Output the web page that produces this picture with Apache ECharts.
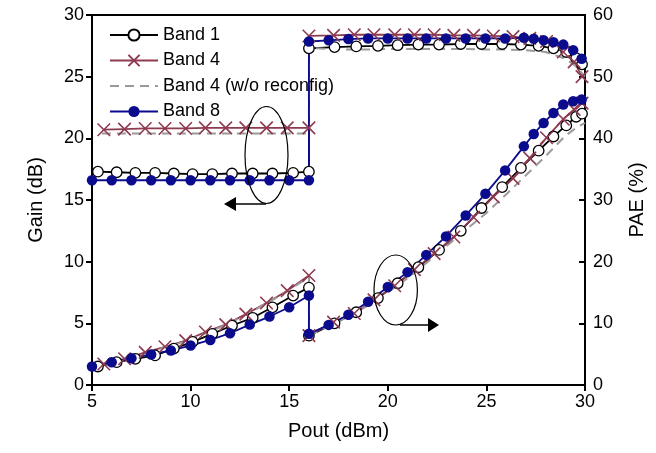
<!DOCTYPE html>
<html>
<head>
<meta charset="utf-8">
<script src="https://cdn.jsdelivr.net/npm/echarts@6/dist/echarts.min.js"></script>
<style>
html, body { margin: 0; padding: 0; background: #fff; }
#main { width: 656px; height: 453px; }
</style>
</head>
<body>
<div id="main"></div>
<script>
// ---- data ----
var xTicks = [5, 10, 15, 20, 25, 30];

// Band 1
var b1LowX = [5.3, 6.25, 7.2, 8.2, 9.15, 10.1, 11.1, 12.1, 13.15, 14.15, 15.2, 16];
var b1LowGain = [17.3, 17.25, 17.2, 17.2, 17.15, 17.1, 17.1, 17.15, 17.15, 17.15, 17.2, 17.3];
var b1LowPae = [3.0, 3.7, 4.25, 4.8, 5.9, 7.0, 8.3, 9.65, 10.9, 12.6, 14.5, 15.8];
var b1HighX = [16, 17.3, 18.4, 19.5, 20.5, 21.55, 22.6, 23.7, 24.75, 25.8, 26.75, 27.65, 28.4, 29.05, 29.55, 29.85];
var b1HighGain = [27.3, 27.4, 27.45, 27.5, 27.55, 27.6, 27.6, 27.65, 27.65, 27.65, 27.6, 27.5, 27.3, 27.0, 26.5, 26.0];
var b1HighPae = [8.0, 10.0, 11.8, 14.1, 16.5, 19.1, 21.9, 25.0, 28.7, 32.1, 35.2, 38.0, 40.3, 42.1, 43.5, 44.0];

// Band 4
var b4LowX = [5.6, 6.65, 7.7, 8.7, 9.75, 10.75, 11.78, 12.8, 13.85, 14.9, 16];
var b4LowGain = [20.7, 20.75, 20.8, 20.8, 20.8, 20.85, 20.85, 20.85, 20.85, 20.85, 20.85];
var b4LowPae = [3.4, 4.25, 5.3, 6.2, 7.2, 8.6, 9.8, 11.5, 13.3, 15.3, 17.75];
var b4HighX = [16, 17.25, 18.3, 19.3, 20.35, 21.35, 22.35, 23.35, 24.35, 25.35, 26.35, 27.2, 28.05, 28.9, 29.45, 29.85];
var b4HighGain = [28.3, 28.35, 28.4, 28.4, 28.4, 28.4, 28.4, 28.35, 28.35, 28.3, 28.25, 28.1, 27.85, 27.0, 26.2, 25.0];
var b4HighPae = [8.0, 10.2, 11.6, 13.8, 16.1, 18.7, 21.3, 24.0, 27.2, 30.5, 33.5, 36.8, 40.1, 43.1, 44.7, 45.7];

// Band 4 (w/o reconfig)
var b4nLowX = [5.5, 6.65, 7.7, 8.7, 9.75, 10.75, 11.78, 12.8, 13.85, 14.9, 16];
var b4nLowGain = [20.4, 20.4, 20.4, 20.4, 20.4, 20.4, 20.4, 20.4, 20.4, 20.4, 20.4];
var b4nLowPae = [3.3, 4.2, 5.2, 6.1, 7.1, 8.4, 9.7, 11.4, 13.2, 15.2, 17.5];
var b4nHighX = [16, 17, 18, 19, 20, 21, 22, 23, 24, 25, 26, 27, 28, 29, 29.5, 30];
var b4nHighGain = [27.35, 27.25, 27.2, 27.2, 27.25, 27.25, 27.25, 27.25, 27.25, 27.2, 27.2, 27.15, 27.0, 26.45, 25.9, 25.0];
var b4nHighPae = [8.0, 9.6, 11.1, 12.9, 15.0, 17.3, 19.9, 22.6, 25.3, 27.9, 30.9, 34.0, 37.1, 40.4, 41.6, 42.5];

// Band 8
var b8LowX = [5, 6, 7, 8, 9, 10, 11, 12, 13, 14, 15, 16];
var b8LowGain = [16.6, 16.6, 16.6, 16.6, 16.6, 16.6, 16.6, 16.6, 16.6, 16.6, 16.6, 16.6];
var b8LowPae = [3.0, 3.7, 4.35, 4.95, 5.6, 6.4, 7.3, 8.4, 9.8, 11.1, 12.6, 14.5];
var b8HighX = [16, 17, 18, 19, 20, 21, 21.95, 22.95, 23.95, 24.95, 25.95, 26.9, 27.4, 27.9, 28.4, 28.9, 29.4, 29.83];
var b8HighGain = [27.85, 27.95, 28.05, 28.1, 28.1, 28.1, 28.1, 28.1, 28.1, 28.1, 28.1, 28.15, 28.08, 27.95, 27.8, 27.6, 27.15, 26.45];
var b8HighPae = [8.3, 9.75, 11.4, 13.5, 15.9, 18.3, 21.1, 24.1, 27.5, 31.0, 34.8, 38.7, 40.7, 42.5, 44.1, 45.5, 46.0, 46.3];

// ---- helpers ----
function pairs(xa, ya, xb, yb) {
    var out = [];
    for (var i = 0; i < xa.length; i++) out.push([xa[i], ya[i]]);
    for (var j = 0; j < xb.length; j++) out.push([xb[j], yb[j]]);
    return out;
}

var black = '#000000';
var maroon = '#8e3a50';
var grey = '#9a9a9a';
var navy = '#0b0b8e';
var crossPath = 'path://M0,0L10,10M10,0L0,10';
var font = 'Liberation Sans';
var lw = 1.8;

function band1(data, axis) {
    return {
        name: 'Band 1', type: 'line', yAxisIndex: axis, data: data,
        symbol: 'circle', symbolSize: 10.5, showAllSymbol: true,
        lineStyle: {color: black, width: lw},
        itemStyle: {color: '#ffffff', borderColor: black, borderWidth: 1.3},
        emphasis: {disabled: true}, animation: false
    };
}
function band4(data, axis) {
    return {
        name: 'Band 4', type: 'line', yAxisIndex: axis, data: data,
        symbol: crossPath, symbolSize: 12.5, showAllSymbol: true,
        lineStyle: {color: maroon, width: lw},
        itemStyle: {color: maroon, borderColor: maroon, borderWidth: 1.6},
        emphasis: {disabled: true}, animation: false
    };
}
function band4n(data, axis) {
    return {
        name: 'Band 4 (w/o reconfig)', type: 'line', yAxisIndex: axis, data: data,
        symbol: 'none',
        lineStyle: {color: grey, width: 2, type: [9, 6]},
        itemStyle: {color: grey},
        emphasis: {disabled: true}, animation: false
    };
}
function band8(data, axis) {
    return {
        name: 'Band 8', type: 'line', yAxisIndex: axis, data: data,
        symbol: 'circle', symbolSize: 10.5, showAllSymbol: true,
        lineStyle: {color: navy, width: lw},
        itemStyle: {color: navy, borderColor: navy, borderWidth: 0},
        emphasis: {disabled: true}, animation: false
    };
}

var chart = echarts.init(document.getElementById('main'), null, {renderer: 'canvas'});

var axisLbl = {color: '#000', fontFamily: font, fontSize: 18};
var axisNm = {color: '#000', fontFamily: font, fontSize: 20};
var axisLn = {color: '#000', width: 2};

chart.setOption({
    animation: false,
    backgroundColor: '#fff',
    textStyle: {fontFamily: font},
    grid: {left: 92, right: 71, top: 15, bottom: 68, show: true, borderColor: '#000', borderWidth: 2},
    legend: {
        data: [
            'Band 1',
            'Band 4',
            {name: 'Band 4 (w/o reconfig)', itemStyle: {color: 'transparent', borderColor: 'transparent', opacity: 0}},
            'Band 8'
        ],
        orient: 'vertical', left: 104, top: 20,
        itemWidth: 48, itemHeight: 14, itemGap: 5.5,
        textStyle: {color: '#000', fontFamily: font, fontSize: 18, lineHeight: 20},
        selectedMode: false
    },
    xAxis: {
        type: 'value', min: 5, max: 30, interval: 5,
        name: 'Pout (dBm)', nameLocation: 'middle', nameGap: 36, nameTextStyle: axisNm,
        axisLine: {lineStyle: axisLn},
        axisTick: {inside: false, length: 6, lineStyle: axisLn},
        axisLabel: axisLbl, splitLine: {show: false}
    },
    yAxis: [{
        type: 'value', min: 0, max: 30, interval: 5,
        name: 'Gain (dB)', nameLocation: 'middle', nameGap: 46, nameTextStyle: axisNm,
        axisLine: {show: true, lineStyle: axisLn},
        axisTick: {show: true, inside: false, length: 6, lineStyle: axisLn},
        axisLabel: axisLbl, splitLine: {show: false}
    }, {
        type: 'value', min: 0, max: 60, interval: 10, position: 'right',
        name: 'PAE (%)', nameLocation: 'middle', nameGap: 42, nameRotate: 90, nameTextStyle: axisNm,
        axisLine: {show: true, lineStyle: axisLn},
        axisTick: {show: true, inside: true, length: 6, lineStyle: axisLn},
        axisLabel: axisLbl, splitLine: {show: false}
    }],
    series: [
        band1(pairs(b1LowX, b1LowGain, b1HighX, b1HighGain), 0),
        band1(pairs(b1LowX, b1LowPae, b1HighX, b1HighPae), 1),
        band4(pairs(b4LowX, b4LowGain, b4HighX, b4HighGain), 0),
        band4(pairs(b4LowX, b4LowPae, b4HighX, b4HighPae), 1),
        band4n(pairs(b4nLowX, b4nLowGain, b4nHighX, b4nHighGain), 0),
        band4n(pairs(b4nLowX, b4nLowPae, b4nHighX, b4nHighPae), 1),
        band8(pairs(b8LowX, b8LowGain, b8HighX, b8HighGain), 0),
        band8(pairs(b8LowX, b8LowPae, b8HighX, b8HighPae), 1)
    ],
    // annotation ellipses + arrows marking which axis each group belongs to
    graphic: [
        {type: 'ellipse', shape: {cx: 266.5, cy: 155, rx: 21.5, ry: 48.5}, style: {fill: 'none', stroke: '#000', lineWidth: 1.2}, z: 100},
        {type: 'line', shape: {x1: 266, y1: 204, x2: 234, y2: 204}, style: {stroke: '#000', lineWidth: 1.5}, z: 100},
        {type: 'polygon', shape: {points: [[224, 204], [236, 197], [236, 211]]}, style: {fill: '#000'}, z: 100},
        {type: 'ellipse', shape: {cx: 395.7, cy: 290, rx: 21.7, ry: 35}, style: {fill: 'none', stroke: '#000', lineWidth: 1.2}, z: 100},
        {type: 'line', shape: {x1: 400, y1: 325, x2: 430, y2: 325}, style: {stroke: '#000', lineWidth: 1.5}, z: 100},
        {type: 'polygon', shape: {points: [[439, 325], [428, 318], [428, 332]]}, style: {fill: '#000'}, z: 100}
    ]
});
</script>
</body>
</html>
